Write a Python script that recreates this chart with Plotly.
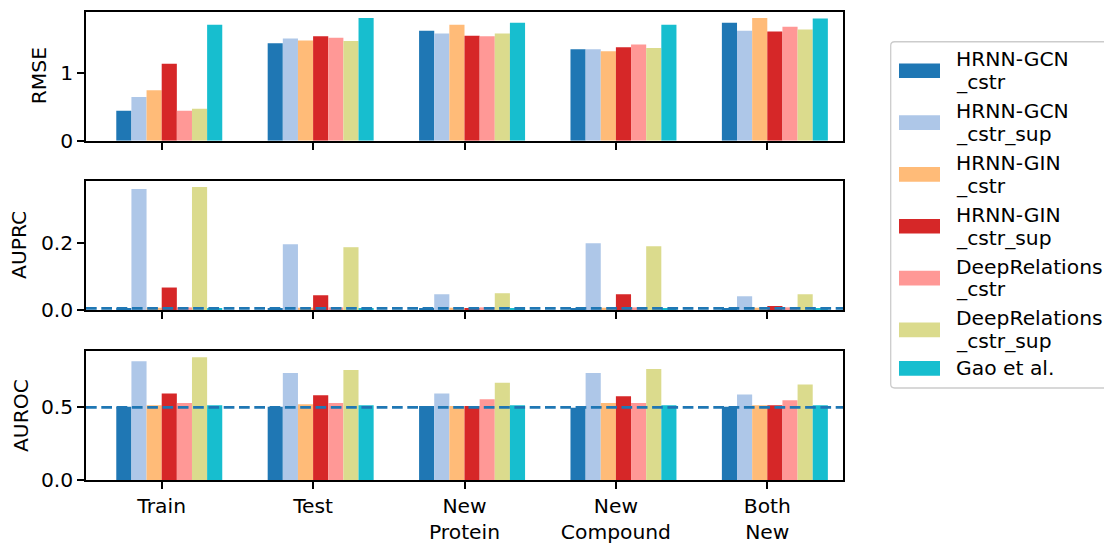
import plotly.graph_objects as go

# ---- data -------------------------------------------------------------
categories = ["Train", "Test", "New<br>Protein", "New<br>Compound", "Both<br>New"]
models = [
    "HRNN-GCN<br>_cstr",
    "HRNN-GCN<br>_cstr_sup",
    "HRNN-GIN<br>_cstr",
    "HRNN-GIN<br>_cstr_sup",
    "DeepRelations<br>_cstr",
    "DeepRelations<br>_cstr_sup",
    "Gao et al.",
]
colors = ["#1f77b4", "#aec7e8", "#ffbb78", "#d62728", "#ff9896", "#dbdb8d", "#17becf"]

# one row per model, one column per split
rmse = [
    [0.44, 1.43, 1.61, 1.34, 1.73],
    [0.64, 1.50, 1.57, 1.34, 1.61],
    [0.74, 1.47, 1.70, 1.31, 1.80],
    [1.13, 1.53, 1.54, 1.37, 1.60],
    [0.44, 1.51, 1.53, 1.41, 1.67],
    [0.47, 1.46, 1.57, 1.36, 1.63],
    [1.70, 1.80, 1.73, 1.70, 1.79],
]
auprc = [
    [0.006, 0.006, 0.006, 0.006, 0.006],
    [0.360, 0.196, 0.047, 0.199, 0.041],
    [0.007, 0.007, 0.007, 0.007, 0.007],
    [0.067, 0.044, 0.006, 0.047, 0.012],
    [0.008, 0.008, 0.008, 0.008, 0.008],
    [0.366, 0.187, 0.050, 0.190, 0.047],
    [0.006, 0.006, 0.006, 0.006, 0.006],
]
auroc = [
    [0.504, 0.504, 0.509, 0.497, 0.504],
    [0.818, 0.737, 0.596, 0.737, 0.589],
    [0.515, 0.522, 0.509, 0.529, 0.515],
    [0.596, 0.583, 0.509, 0.576, 0.515],
    [0.529, 0.529, 0.556, 0.529, 0.549],
    [0.845, 0.757, 0.670, 0.764, 0.657],
    [0.515, 0.515, 0.515, 0.515, 0.515],
]
metric_names = ["RMSE", "AUPRC", "AUROC"]
metric_values = [rmse, auprc, auroc]
metric_ticks = [[0, 1], [0.0, 0.2], [0.0, 0.5]]
metric_tickformat = ["d", ".1f", ".1f"]
random_baseline = [None, 0.005, 0.5]

# ---- layout geometry (pixels) -----------------------------------------
W, H = 1104, 546
PLOT_L, PLOT_R = 86, 843
panels = [(12, 144), (185, 317), (359, 490.7)]
title_x = [39, 19.5, 20.5]
FONT = "DejaVu Sans"
FS = 20.3
LINE_H = 23.4
BAR_W = 0.1

def px_x(p):
    return p / W

def px_y(p):
    return 1 - p / H

fig = go.Figure()

for k, vals in enumerate(metric_values):
    ax = "" if k == 0 else str(k + 1)
    for i, series in enumerate(vals):
        fig.add_trace(go.Bar(
            x=list(range(len(categories))),
            y=series,
            width=BAR_W,
            offset=(i - 3) * BAR_W,
            marker=dict(color=colors[i], line=dict(width=0)),
            xaxis="x" + ax,
            yaxis="y" + ax,
            showlegend=False,
            name=models[i].replace("<br>", ""),
        ))

layout = dict(
    width=W, height=H,
    margin=dict(l=0, r=0, t=0, b=0),
    paper_bgcolor="white", plot_bgcolor="white",
    barmode="overlay",
    font=dict(family=FONT, size=FS, color="black"),
    shapes=[], annotations=[],
)

for k, (top, bot) in enumerate(panels):
    ax = "" if k == 0 else str(k + 1)
    ymax = 1.05 * max(max(r) for r in metric_values[k])
    layout["xaxis" + ax] = dict(
        domain=[px_x(PLOT_L), px_x(PLOT_R)],
        anchor="y" + ax,
        range=[-0.5, len(categories) - 0.5],
        tickvals=list(range(len(categories))),
        ticktext=categories,
        showticklabels=(k == 2),
        ticks="outside", ticklen=7, tickwidth=1.5, tickcolor="black",
        showline=True, linewidth=1.5, linecolor="black", mirror=True,
        showgrid=False, zeroline=False,
        tickfont=dict(family=FONT, size=FS, color="black"),
    )
    layout["yaxis" + ax] = dict(
        domain=[px_y(bot), px_y(top)],
        anchor="x" + ax,
        range=[0, ymax],
        tickvals=metric_ticks[k],
        tickformat=metric_tickformat[k],
        ticks="outside", ticklen=7, tickwidth=1.5, tickcolor="black",
        showline=True, linewidth=1.5, linecolor="black", mirror=True,
        showgrid=False, zeroline=False,
        tickfont=dict(family=FONT, size=FS, color="black"),
    )
    # y-axis title
    layout["annotations"].append(dict(
        text=metric_names[k], textangle=-90,
        xref="paper", yref="paper",
        x=px_x(title_x[k]), y=px_y((top + bot) / 2),
        xanchor="center", yanchor="middle",
        showarrow=False, font=dict(family=FONT, size=FS, color="black"),
    ))
    # random-classifier reference line
    if random_baseline[k] is not None:
        layout["shapes"].append(dict(
            type="line", xref="x" + ax + " domain", yref="y" + ax,
            x0=0, x1=1, y0=random_baseline[k], y1=random_baseline[k],
            line=dict(color="#1f77b4", width=2.8, dash="10.7px,4.6px"),
            layer="above",
        ))

# ---- legend -----------------------------------------------------------
LEG_L, LEG_T, LEG_B, LEG_R = 890.7, 42.7, 396.7, 1115
r = 4
path = (
    f"M {px_x(LEG_L + r)},{px_y(LEG_T)} L {px_x(LEG_R)},{px_y(LEG_T)} "
    f"L {px_x(LEG_R)},{px_y(LEG_B)} L {px_x(LEG_L + r)},{px_y(LEG_B)} "
    f"Q {px_x(LEG_L)},{px_y(LEG_B)} {px_x(LEG_L)},{px_y(LEG_B - r)} "
    f"L {px_x(LEG_L)},{px_y(LEG_T + r)} "
    f"Q {px_x(LEG_L)},{px_y(LEG_T)} {px_x(LEG_L + r)},{px_y(LEG_T)} Z"
)
layout["shapes"].append(dict(
    type="path", xref="paper", yref="paper", path=path,
    line=dict(color="#cccccc", width=1.3), fillcolor="rgba(255,255,255,0.8)",
    layer="above",
))
entry_centers = [72.3, 125.3, 178.3, 231.3, 284.3, 337.3, 376.7]
for i, name in enumerate(models):
    cy = entry_centers[i]
    layout["shapes"].append(dict(
        type="rect", xref="paper", yref="paper",
        x0=px_x(899), x1=px_x(940), y0=px_y(cy - 7.5), y1=px_y(cy + 7.5),
        fillcolor=colors[i], line=dict(width=0), layer="above",
    ))
    lines = name.split("<br>")
    first = cy - (len(lines) - 1) * LINE_H / 2
    for j, line in enumerate(lines):
        layout["annotations"].append(dict(
            text=line, xref="paper", yref="paper",
            x=px_x(954), y=px_y(first + j * LINE_H), xanchor="left", yanchor="middle",
            align="left", showarrow=False,
            font=dict(family=FONT, size=FS, color="black"),
        ))

fig.update_layout(**layout)
fig.write_html("out.html")
